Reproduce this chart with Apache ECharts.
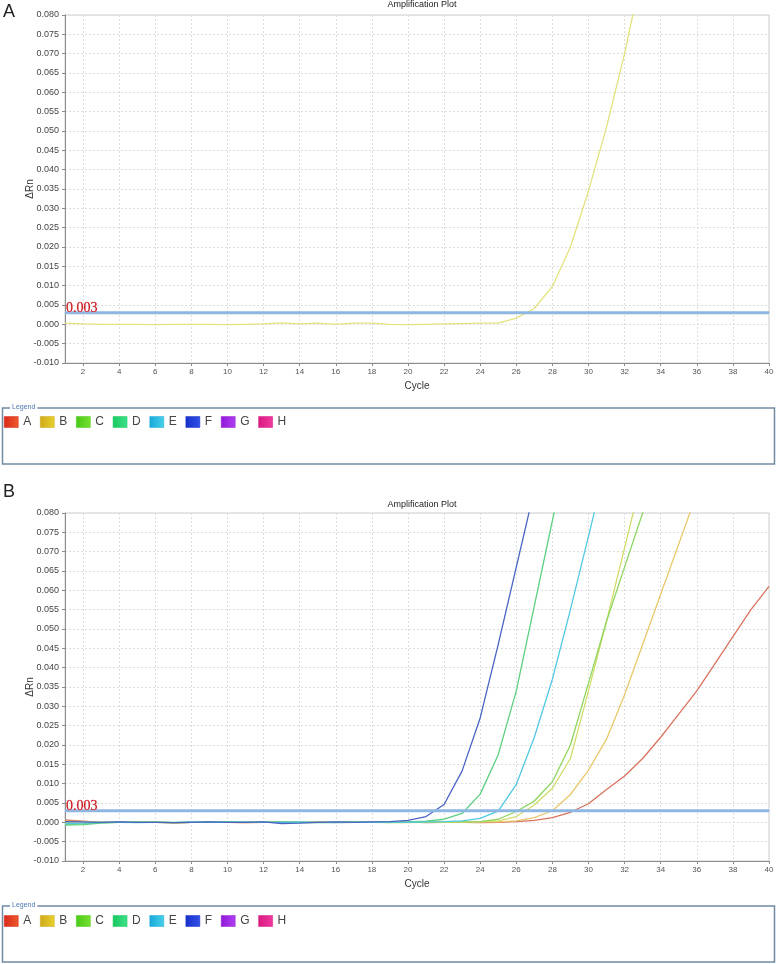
<!DOCTYPE html>
<html><head><meta charset="utf-8">
<script src="https://cdn.jsdelivr.net/npm/echarts@6/dist/echarts.min.js"></script>
<style>html,body{margin:0;padding:0;background:#fff}#c{width:777px;height:964px}</style>
</head><body><div id="c"></div>
<script>
// ---- data ----
const legendNames = ['A','B','C','D','E','F','G','H'];
const xTicks = [2,4,6,8,10,12,14,16,18,20,22,24,26,28,30,32,34,36,38,40];
const thresholdCycles = [1,40];
const threshold = 0.003;
// Panel A: single sample (B)
const panelA_B = [0.0003,0.0001,0.0000,0.0000,0.0000,-0.0001,0.0000,0.0000,0.0000,-0.0001,0.0000,0.0001,0.0004,0.0001,0.0003,0.0000,0.0003,0.0003,0.0000,-0.0001,0.0000,0.0001,0.0002,0.0003,0.0003,0.0016,0.0041,0.0098,0.0200,0.0345,0.0510,0.0700,0.0920];
// Panel B
const panelB_F = [0.0002,0.0001,0.0000,0.0001,0.0000,0.0000,-0.0001,0.0000,0.0001,0.0000,0.0000,0.0001,-0.0003,-0.0002,0.0000,0.0001,0.0000,0.0001,0.0002,0.0005,0.0015,0.0046,0.0133,0.0270,0.0460,0.0660,0.0860];
const panelB_D = [-0.0007,-0.0006,-0.0002,0.0000,0.0001,0.0000,-0.0001,0.0000,0.0001,0.0002,0.0000,0.0000,0.0001,0.0000,-0.0001,0.0000,0.0001,0.0000,0.0000,0.0001,0.0003,0.0008,0.0023,0.0073,0.0175,0.0340,0.0560,0.0780,0.0990];
const panelB_E = [-0.0003,-0.0002,0.0000,0.0000,-0.0001,0.0000,0.0000,0.0001,0.0000,0.0000,0.0001,0.0000,0.0000,0.0001,0.0000,-0.0001,0.0000,0.0000,0.0001,0.0000,0.0001,0.0002,0.0004,0.0010,0.0029,0.0098,0.0220,0.0370,0.0550,0.0740,0.0930];
const panelB_C = [-0.0005,-0.0004,-0.0001,0.0000,0.0000,0.0001,-0.0001,0.0000,0.0000,0.0001,0.0000,0.0001,0.0000,-0.0001,0.0000,0.0000,0.0001,0.0000,-0.0001,0.0000,0.0000,0.0001,0.0001,0.0002,0.0008,0.0028,0.0055,0.0105,0.0200,0.0360,0.0520,0.0660,0.0800,0.0940];
const panelB_B1 = [0.0000,0.0001,0.0000,0.0000,0.0001,0.0000,-0.0001,0.0000,0.0000,0.0000,0.0001,0.0000,0.0000,0.0001,0.0000,0.0000,0.0000,0.0001,0.0000,0.0000,0.0001,0.0000,0.0001,0.0001,0.0004,0.0015,0.0045,0.0088,0.0165,0.0340,0.0520,0.0710,0.0900];
const panelB_B2 = [0.0003,0.0002,0.0000,0.0001,0.0000,0.0000,-0.0001,0.0000,0.0000,0.0000,-0.0001,0.0000,0.0001,0.0000,0.0000,-0.0001,0.0000,0.0001,0.0000,-0.0001,0.0000,0.0000,0.0000,0.0001,0.0001,0.0004,0.0012,0.0030,0.0072,0.0135,0.0215,0.0330,0.0460,0.0590,0.0720,0.0850];
const panelB_A = [0.0006,0.0003,0.0000,0.0001,0.0000,0.0001,-0.0002,0.0000,0.0001,0.0000,-0.0001,0.0000,0.0001,0.0000,0.0001,0.0000,0.0002,0.0001,0.0000,0.0001,-0.0001,0.0000,0.0000,-0.0001,0.0000,0.0002,0.0005,0.0012,0.0026,0.0048,0.0085,0.0120,0.0165,0.0220,0.0280,0.0340,0.0410,0.0480,0.0550,0.0610];

// ---- styles ----
const swatch = {
  A:['#d8281c','#ee5a2a'], B:['#d0a818','#e6d230'], C:['#48c818','#78e030'], D:['#18c860','#40e088'],
  E:['#18a8d8','#48d0ea'], F:['#1830c8','#3050e8'], G:['#9018d8','#b040f0'], H:['#d81880','#f03aa0']
};
const font = 'Liberation Sans, Arial, sans-serif';
const pairs = arr => arr.map((v,i)=>[i+1, v]);
function grad(c){ return new echarts.graphic.LinearGradient(0,0,1,0,[{offset:0,color:c[0]},{offset:1,color:c[1]}]); }

function makeAxes(gi){
  const x = {
    type:'value', gridIndex:gi, min:1, max:40,
    name:'Cycle', nameLocation:'middle', nameGap:18, nameMoveOverlap:false,
    nameTextStyle:{color:'#333', fontSize:10, fontFamily:font},
    axisLine:{show:true, onZero:false, lineStyle:{color:'#8c8c8c', width:1}},
    axisTick:{show:true, customValues:xTicks, length:3, lineStyle:{color:'#8c8c8c'}},
    axisLabel:{customValues:xTicks, color:'#555', fontSize:8, fontFamily:font, margin:5},
    splitLine:{show:true, lineStyle:{color:'#dedede', type:[2,2], width:1}}
  };
  const y = {
    type:'value', gridIndex:gi, min:-0.01, max:0.08, interval:0.005,
    name:'ΔRn', nameLocation:'middle', nameGap:30, nameMoveOverlap:false,
    nameTextStyle:{color:'#333', fontSize:10, fontFamily:font},
    axisLine:{show:true, onZero:false, lineStyle:{color:'#8c8c8c', width:1}},
    axisTick:{show:true, length:3, lineStyle:{color:'#8c8c8c'}},
    axisLabel:{formatter:v=>v.toFixed(3), color:'#444', fontSize:9, fontFamily:font, margin:6},
    splitLine:{show:true, lineStyle:{color:'#dedede', type:[2,2], width:1}}
  };
  return [x,y];
}
const [xa, ya] = makeAxes(0);
const [xb, yb] = makeAxes(1);

function line(name, data, gi, color){
  return {type:'line', name, xAxisIndex:gi, yAxisIndex:gi, data:pairs(data), showSymbol:false,
    symbol:'none', smooth:false, clip:true, lineStyle:{color, width:1.3}, itemStyle:{color}, z:2, silent:true};
}
function thresholdSeries(gi){
  const pts = thresholdCycles.map(c=>[c, threshold]);
  return {type:'line', name:'threshold', xAxisIndex:gi, yAxisIndex:gi, z:5, silent:true,
    symbol:'circle', symbolSize:1, showSymbol:true, showAllSymbol:true, labelLayout:{hideOverlap:false},
    lineStyle:{color:'#8db6e3', width:3}, itemStyle:{color:'#8db6e3'},
    data:[
      {value:pts[0], label:{show:true, position:[1.5,-11], align:'left', verticalAlign:'top', formatter:String(threshold),
        color:'#c8161e', fontSize:14, fontFamily:'Liberation Serif, DejaVu Serif, serif', textBorderColor:'#f0a0a0', textBorderWidth:0.5}},
      {value:pts[1], label:{show:false}}
    ]};
}
function legend(top){
  return {top, left:4, padding:0, itemWidth:14, itemHeight:11, itemGap:8.8, icon:'rect', selectedMode:false,
    textStyle:{color:'#444', fontSize:12, fontFamily:font},
    data:legendNames.map(n=>({name:n, itemStyle:{color:grad(swatch[n]), borderColor:swatch[n][0], borderWidth:0.5}}))};
}
function legendBox(top, bottom){
  return [
    {type:'rect', shape:{x:2.5, y:top, width:772, height:bottom-top}, style:{fill:'#fff', stroke:'#6f8aa2', lineWidth:1.5}, z:-1},
    {type:'text', left:10, top:top-4, style:{text:'Legend', fill:'#4a78b4', fontSize:7, fontFamily:font, backgroundColor:'#fff', padding:[0,2]}, z:10}
  ];
}

const option = {
  backgroundColor:'#fff',
  animation:false,
  title:[
    {text:'Amplification Plot', left:417, textAlign:'center', top:-5, textStyle:{fontSize:9, fontWeight:'normal', color:'#222', fontFamily:font}},
    {text:'Amplification Plot', left:417, textAlign:'center', top:495, textStyle:{fontSize:9, fontWeight:'normal', color:'#222', fontFamily:font}}
  ],
  grid:[
    {left:65, top:15, width:704, height:348, show:true, borderColor:'#cfcfcf', borderWidth:1, backgroundColor:'#fff'},
    {left:65, top:513, width:704, height:348, show:true, borderColor:'#cfcfcf', borderWidth:1, backgroundColor:'#fff'}
  ],
  xAxis:[xa, xb],
  yAxis:[ya, yb],
  legend:[legend(416), legend(915)],
  graphic:[
    ...legendBox(408, 464),
    ...legendBox(906, 962),
    {type:'text', left:3, top:3, style:{text:'A', fill:'#222', fontSize:18, fontFamily:font}},
    {type:'text', left:3, top:483, style:{text:'B', fill:'#222', fontSize:18, fontFamily:font}}
  ],
  series:[
    line('B', panelA_B, 0, '#e4e27e'),
    thresholdSeries(0),
    line('A', panelB_A, 1, '#d9725f'),
    line('B', panelB_B2, 1, '#e8c86a'),
    line('B', panelB_B1, 1, '#d2dc6a'),
    line('C', panelB_C, 1, '#8ed660'),
    line('D', panelB_D, 1, '#5ccf80'),
    line('E', panelB_E, 1, '#52c8e2'),
    line('F', panelB_F, 1, '#4a64c4'),
    line('G', [], 1, '#a050d8'),
    line('H', [], 1, '#d84a98'),
    thresholdSeries(1)
  ]
};
const chart = echarts.init(document.getElementById('c'), null, {renderer:'canvas'});
chart.setOption(option);
</script>
</body></html>
